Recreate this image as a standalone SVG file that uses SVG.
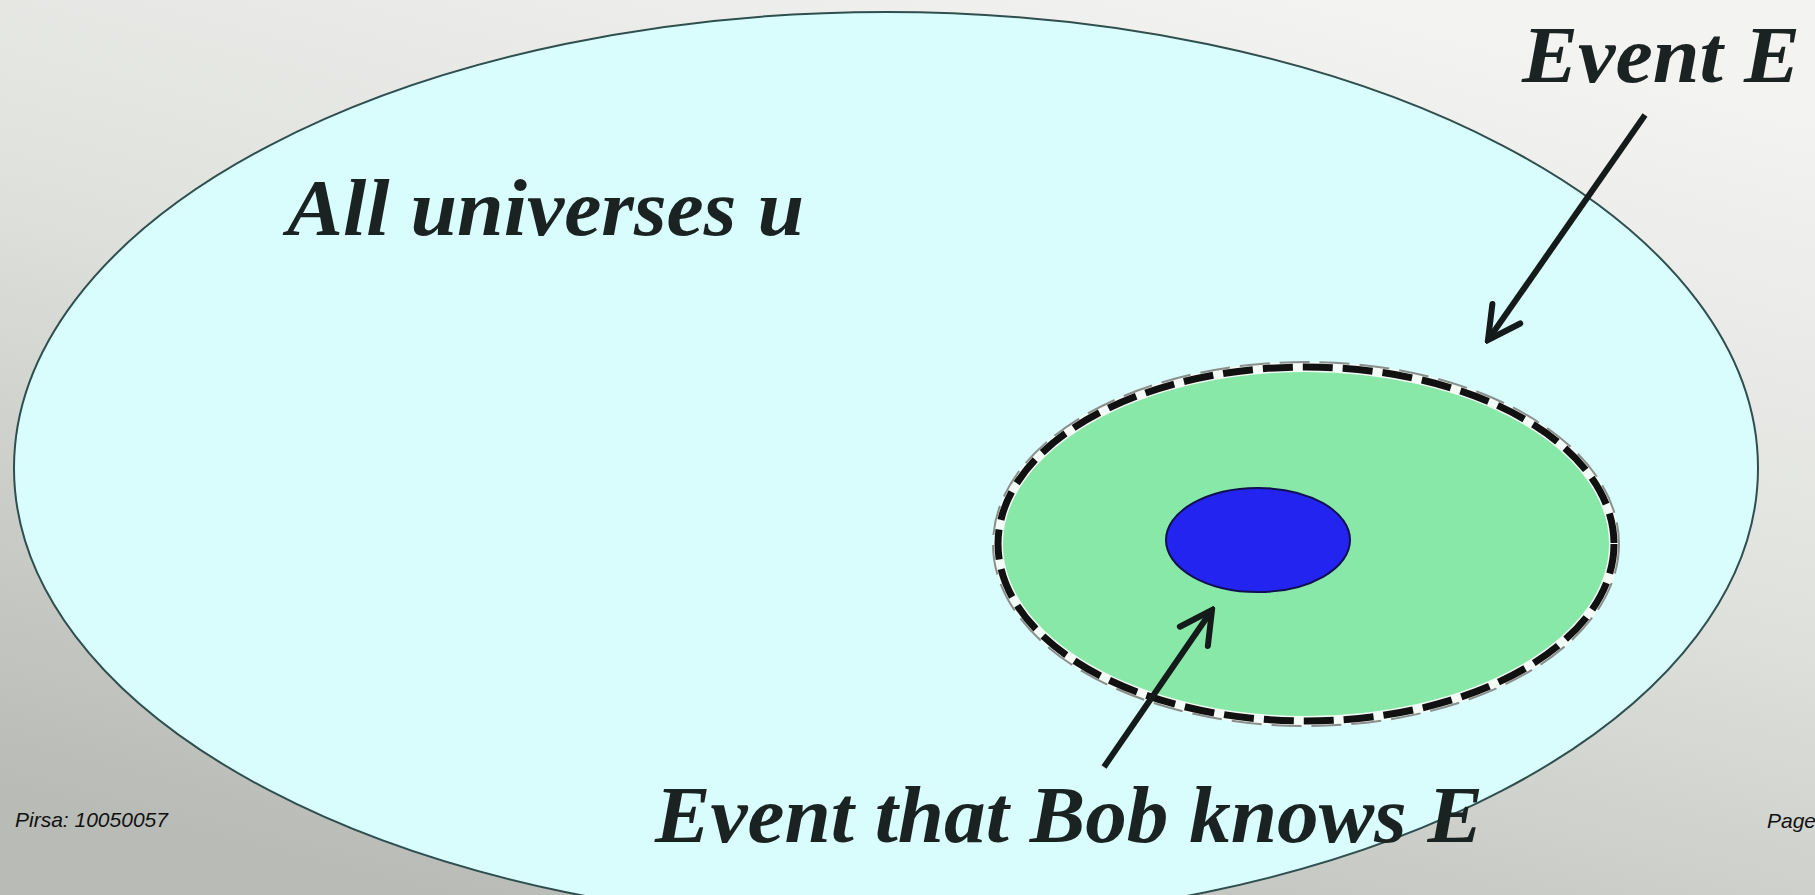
<svg xmlns="http://www.w3.org/2000/svg" width="1815" height="895" viewBox="0 0 1815 895">
  <defs>
    <linearGradient id="bg" x1="0.75" y1="0" x2="0.25" y2="1">
      <stop offset="0" stop-color="#f3f3f1"/>
      <stop offset="0.45" stop-color="#e0e2de"/>
      <stop offset="1" stop-color="#b8bbb6"/>
    </linearGradient>
    <marker id="head" markerUnits="userSpaceOnUse" markerWidth="44" markerHeight="44" viewBox="0 0 44 44" refX="40" refY="22" orient="auto">
      <path d="M8,5 L40,22 L8,39" fill="none" stroke="#151a1a" stroke-width="6" stroke-linecap="round" stroke-linejoin="miter"/>
    </marker>
  </defs>
  <style>
    .title { font-family: "Liberation Serif", "Times New Roman", serif; font-style: italic; font-weight: bold; fill: #1a2222; }
    .foot { font-family: "Liberation Sans", Arial, sans-serif; font-style: italic; font-size: 21px; fill: #111; }
    .conn { fill: none; stroke: #151a1a; stroke-width: 6; marker-end: url(#head); }
  </style>
  <rect x="0" y="0" width="1815" height="895" fill="url(#bg)"/>

  <g id="universes">
    <ellipse cx="886" cy="468" rx="872" ry="456" fill="#d9fcfd" stroke="#2f4f4f" stroke-width="2"/>
    <text class="title" x="287" y="235" font-size="80" textLength="517" lengthAdjust="spacingAndGlyphs">All universes u</text>
  </g>

  <g id="eventE">
    <ellipse cx="1306" cy="544" rx="308" ry="177" fill="#88e8a8" stroke="#f4fbf6" stroke-width="10"/>
    <ellipse cx="1306" cy="544" rx="313" ry="182" fill="none" stroke="#8a8f8c" stroke-width="2" stroke-dasharray="30 10"/>
    <ellipse cx="1306" cy="544" rx="308" ry="177" fill="none" stroke="#111111" stroke-width="7" stroke-dasharray="30 10"/>
    <text class="title" x="1522" y="82" font-size="80" textLength="278" lengthAdjust="spacingAndGlyphs">Event E</text>
  </g>

  <g id="bobKnows">
    <ellipse cx="1258" cy="540" rx="92" ry="52" fill="#2424f0" stroke="#101050" stroke-width="2"/>
    <text class="title" x="655" y="842" font-size="80" textLength="828" lengthAdjust="spacingAndGlyphs">Event that Bob knows E</text>
  </g>

  <g id="connectors">
    <line class="conn" x1="1645" y1="115" x2="1488" y2="340"/>
    <line class="conn" x1="1104" y1="767" x2="1212" y2="610"/>
  </g>

  <g id="footer">
    <text class="foot" x="15" y="827">Pirsa: 10050057</text>
    <text class="foot" x="1767" y="828">Page</text>
  </g>
</svg>
